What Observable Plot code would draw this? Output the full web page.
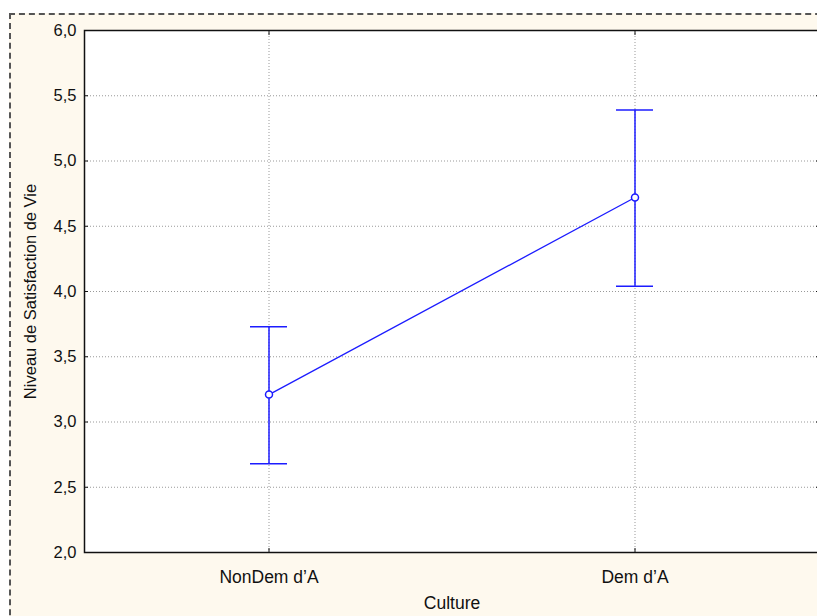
<!DOCTYPE html>
<html>
<head>
<meta charset="utf-8">
<script src="https://cdn.jsdelivr.net/npm/d3@7"></script>
<script src="https://cdn.jsdelivr.net/npm/@observablehq/plot@0.6"></script>
<style>
  html, body { margin: 0; padding: 0; background: #ffffff; }
  #wrap { position: relative; width: 817px; height: 616px; overflow: hidden; font-family: "Liberation Sans", Arial, sans-serif; }
  #bg { position: absolute; left: 9px; top: 13px; width: 840px; height: 640px; background: #fef9ee; border-top: 2px dashed #555; border-left: 2px dashed #555; }
  #chart { position: absolute; left: 0; top: 0; }
</style>
</head>
<body>
<div id="wrap"><div id="bg"></div><div id="chart"></div></div>
<script>
const categories = ["NonDem d\u2019A", "Dem d\u2019A"];
const means = [3.21, 4.72];
const upper = [3.73, 5.39];
const lower = [2.68, 4.04];
const yTicks = [2.0, 2.5, 3.0, 3.5, 4.0, 4.5, 5.0, 5.5, 6.0];

const data = categories.map((c, i) => ({culture: c, mean: means[i], hi: upper[i], lo: lower[i]}));
const blue = "#1c1cff";
const fmt = d => d.toFixed(1).replace(".", ",");

const chart = Plot.plot({
  width: 817,
  height: 616,
  marginLeft: 84,
  marginRight: -2,
  marginTop: 30,
  marginBottom: 64,
  style: {background: "transparent", fontFamily: "Liberation Sans, Arial, sans-serif", color: "#111"},
  x: {type: "band", domain: categories, paddingInner: 0.899, paddingOuter: 0.451, label: "Culture"},
  y: {domain: [2, 6], ticks: yTicks, label: "Niveau de Satisfaction de Vie"},
  marks: [
    Plot.frame({fill: "white", stroke: null}),
    Plot.gridY(yTicks, {stroke: "#999", strokeOpacity: 1, strokeDasharray: "1,2"}),
    Plot.gridX(categories, {stroke: "#999", strokeOpacity: 1, strokeDasharray: "1,2"}),
    Plot.axisY(yTicks, {anchor: "left", tickSize: 0, tickPadding: 8, tickFormat: fmt, fontSize: 16.5, label: "Niveau de Satisfaction de Vie", labelAnchor: "center", labelArrow: "none", labelOffset: 60}),
    Plot.axisY(yTicks, {anchor: "left", tickSize: -4, text: null, label: null, stroke: "#111"}),
    Plot.axisY(yTicks, {anchor: "right", tickSize: -4, text: null, label: null, stroke: "#111"}),
    Plot.axisX(categories, {anchor: "bottom", tickSize: 0, tickPadding: 18, fontSize: 17.5, label: "Culture", labelAnchor: "center", labelArrow: "none", labelOffset: 56}),
    Plot.axisX(categories, {anchor: "bottom", tickSize: -4, text: null, label: null, stroke: "#111"}),
    Plot.axisX(categories, {anchor: "top", tickSize: -4, text: null, label: null, stroke: "#111"}),
    Plot.ruleX(data, {x: "culture", y1: "lo", y2: "hi", stroke: blue, strokeWidth: 1.5}),
    Plot.tickY(data, {x: "culture", y: "hi", stroke: blue, strokeWidth: 1.5}),
    Plot.tickY(data, {x: "culture", y: "lo", stroke: blue, strokeWidth: 1.5}),
    Plot.line(data, {x: "culture", y: "mean", stroke: blue, strokeWidth: 1.3}),
    Plot.dot(data, {x: "culture", y: "mean", r: 3.5, fill: "white", stroke: blue, strokeWidth: 1.5}),
    Plot.frame({stroke: "#111", strokeWidth: 1.5})
  ]
});
document.getElementById("chart").appendChild(chart);
</script>
</body>
</html>
